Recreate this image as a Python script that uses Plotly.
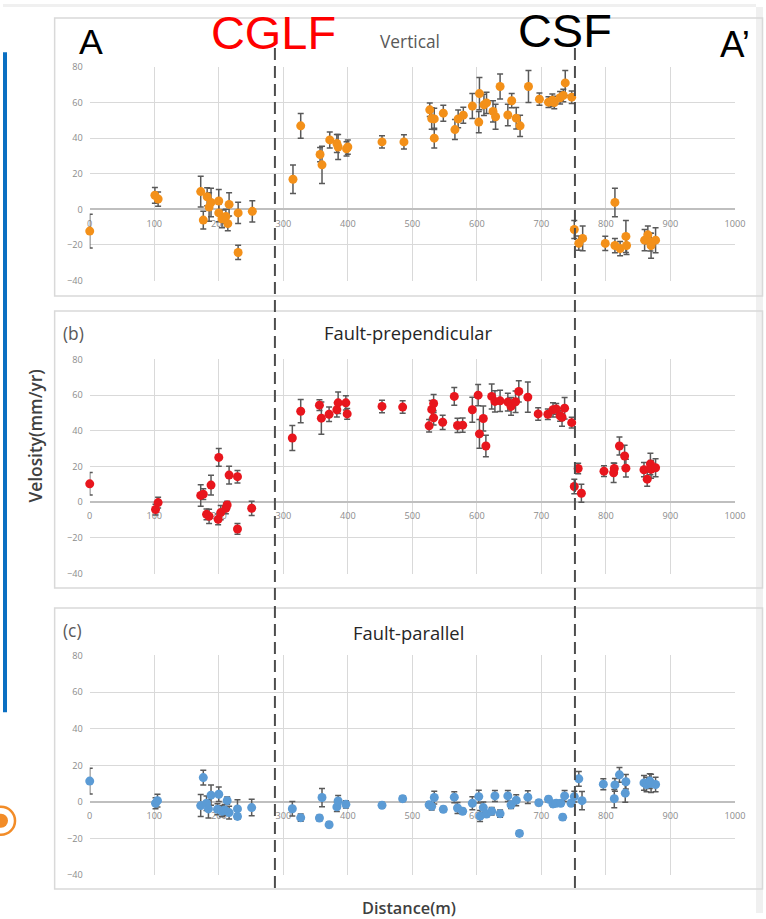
import plotly.graph_objects as go

# ---------------- data ----------------
vert_x = [0, 101, 106, 172, 176, 182, 185, 188, 200, 200, 205, 211, 214, 216, 230, 230, 252,
          315, 327, 357, 360, 372, 383, 385, 398, 400, 453, 487,
          527, 530, 534, 534, 548, 566, 571, 579, 593, 603, 604, 611, 615, 625, 629, 636, 648, 654,
          661, 667, 680, 697, 711, 717, 720, 729, 734, 737, 747,
          751, 758, 764, 799, 814, 814, 822, 831, 832, 860, 865, 869, 870, 877]
vert_y = [-12.2, 7.9, 5.8, 10, -6, 7.1, 1.3, 3.9, 4.7, -2, -5.3, -4, -8, 2.8, -2, -24.2, -1.1,
          16.9, 46.9, 30.8, 25, 39, 37, 35, 34, 35, 37.9, 37.9,
          55.9, 51, 50.8, 40, 54, 44.8, 50.8, 52.9, 58, 49, 65, 58.7, 59.8, 55, 52, 69, 53, 61,
          51.2, 46.9, 69, 61.9, 60.2, 61.3, 60, 62.7, 64, 71, 63,
          -11.3, -19, -16.3, -19.1, 3.9, -20.3, -22, -15.2, -20.3, -17.3, -14.3, -18.4, -20.4, -17.3]
vert_err = [9.5, 4.4, 4, 8.6, 5, 5, 8, 8, 6.5, 5, 5, 4, 4, 6.5, 6, 4, 6,
            8, 7, 4, 10.5, 4.5, 5, 7, 4, 4, 3.5, 4,
            3.8, 6, 6, 5.5, 4.5, 5.6, 5, 4.5, 7, 6, 9, 6, 6, 6, 7, 7, 6, 4,
            6, 6, 9, 3.5, 3, 3.5, 3.5, 3.5, 3.5, 7, 3.5,
            5, 4, 7, 4, 8, 4, 4, 9, 5, 6, 5, 5, 7, 7]

perp_x = [0, 102, 106, 172, 176, 181, 185, 188, 200, 199, 203, 211, 213, 216, 229, 229, 251,
          314, 327, 356, 359, 371, 383, 385, 397, 399, 453, 485,
          526, 530, 533, 533, 547, 565, 570, 578, 593, 602, 604, 610, 614, 623, 628, 636, 648, 653,
          660, 665, 679, 695, 710, 718, 723, 729, 732, 736, 747,
          751, 757, 762, 797, 813, 812, 821, 829, 831, 859, 864, 869, 870, 877]
perp_y = [10.3, -4.1, -0.2, 3.8, 4.5, -6.8, -7.9, 9.6, 25.1, -9.6, -5.8, -3.4, -1.5, 15.2, 14.3, -15, -3.4,
          36, 51, 54.4, 47.1, 49.3, 51.8, 55.7, 55.7, 49.5, 53.7, 53.3,
          42.8, 52, 55.3, 47.3, 44.8, 59.3, 43, 43.2, 51.8, 60, 38.3, 46.9, 31.5, 59.3, 56.5, 56.8, 56.1, 53.7,
          56.3, 62.1, 58.9, 49.5, 49.3, 51.8, 52.3, 48.4, 47.6, 52.7, 44.6,
          8.8, 18.9, 5, 17.4, 18.9, 16.5, 31.5, 25.9, 19.1, 18.2, 12.9, 21.4, 18.4, 19.3]
perp_err = [6.3, 3, 3, 6, 3, 3, 4, 5.5, 5, 3, 4, 3, 2, 5, 3.5, 3, 4,
            7, 6.5, 3, 9, 4, 4, 6, 4, 3, 3.5, 3.5,
            3.5, 5, 5, 4, 4, 5, 4, 4, 7, 6, 8, 7, 6, 7, 6, 6, 5, 5,
            6, 6, 8.5, 3.5, 3, 4, 3, 3, 5, 6, 3,
            4, 3, 5, 3, 3, 5.5, 5, 6, 5, 4, 4, 6, 5, 5]

para_x = [0, 102, 105, 172, 176, 181, 184, 188, 200, 198, 205, 209, 213, 216, 229, 229, 251,
          314, 327, 356, 360, 371, 383, 385, 397, 453, 485,
          526, 530, 534, 548, 565, 570, 578, 593, 603, 605, 610, 615, 623, 628, 636, 648, 653,
          661, 666, 679, 696, 711, 718, 723, 730, 733, 736, 746,
          751, 758, 763, 796, 813, 814, 821, 831, 830, 859, 863, 868, 870, 877]
para_y = [11.4, -0.7, 0.7, -2, 13.3, -0.7, -3.8, 3.7, 4.2, -4, -5.1, -4.4, 0.7, -5.8, -3.8, -7.9, -3.1,
          -3.7, -8.6, -8.8, 2.4, -12.4, -2.7, 0.5, -1.3, -1.8, 1.8,
          -1.6, -2.4, 2.4, -4, 2.6, -3.3, -5.1, -0.7, 2.9, -7.7, -3.1, -6.6, -5.1, 3.3, -6.4, 3.3, -1.6,
          0.9, -17.2, 2.6, -0.4, 1.5, -1.1, -0.7, -0.7, -8.3, 3.3, -0.7,
          2.9, 12.6, 0.7, 9.7, 1.8, 9.3, 14.8, 11, 4.8, 10.4, 9.5, 11.4, 10.1, 9.5]
para_err = [7, 3, 3.5, 6, 4, 4, 5, 5.5, 4, 3, 3, 3, 2, 3.5, 5, 1.5, 4.5,
            4, 2, 1.5, 5, 1.5, 2.5, 3, 2, 1.5, 1.5,
            1.5, 2, 3.5, 1.5, 3, 3, 1.5, 3.5, 3.5, 3, 3, 1.5, 2, 3, 2, 3, 2,
            3, 1.5, 3.5, 1.5, 1.5, 1.5, 1.5, 1.5, 1.5, 3, 1.5,
            3, 4, 5, 3, 5, 3.5, 4, 4, 5, 4, 4, 4, 5, 4]

x_ticks = [0, 100, 200, 300, 400, 500, 600, 700, 800, 900, 1000]
y_ticks = [-40, -20, 0, 20, 40, 60, 80]
fault_positions = [287, 752]

# ---------------- layout helpers ----------------
W, H = 766, 919
# compensation for the capture transform observed (image = offset + scale * page)
OX, OY = 3.0, 8.0
SX, SY = 751 / 766, 903 / 919
def PX(px):
    return ((px - OX) / SX) / W
def PY(py):
    return 1 - ((py - OY) / SY) / H
def FS(s):
    return s / SX

X0, X1 = 89.5, 733
panels = [
    (67.7, 280.7),
    (359.3, 572.7),
    (654.3, 873.3),
]
colors = ["#F39019", "#E8161D", "#5B9BD5"]
series = [(vert_x, vert_y, vert_err), (perp_x, perp_y, perp_err), (para_x, para_y, para_err)]

fig = go.Figure()
layout = dict(
    width=W, height=H,
    margin=dict(l=0, r=0, t=0, b=0),
    paper_bgcolor="white", plot_bgcolor="white",
    showlegend=False,
    font=dict(family="Open Sans, sans-serif", color="#808080"),
)

for i, ((top, bot), col, (xs, ys, es)) in enumerate(zip(panels, colors, series)):
    n = "" if i == 0 else str(i + 1)
    fig.add_trace(go.Scatter(
        x=xs, y=ys, mode="markers",
        marker=dict(color=col, size=FS(8.8), line=dict(width=0)),
        error_y=dict(type="data", array=es, visible=True, color="#595959",
                     thickness=1.5, width=3),
        xaxis="x" + n, yaxis="y" + n, cliponaxis=False,
    ))
    zero_py = top + (bot - top) * 80 / 120
    layout["xaxis" + n] = dict(
        domain=[PX(X0), PX(X1)], range=[0, 1000], tickvals=x_ticks,
        showgrid=True, gridcolor="#d9d9d9", gridwidth=1, zeroline=False,
        showline=False, ticks="", anchor="free", position=PY(zero_py),
        tickfont=dict(size=FS(9), color="#8c8c8c"), ticklabelstandoff=7,
        layer="below traces", fixedrange=True,
    )
    layout["yaxis" + n] = dict(
        domain=[PY(bot), PY(top)], range=[-40, 80], tickvals=y_ticks,
        showgrid=True, gridcolor="#d9d9d9", gridwidth=1,
        zeroline=True, zerolinecolor="#bfbfbf", zerolinewidth=1.5,
        showline=False, ticks="", anchor="x" + n,
        tickfont=dict(size=FS(9), color="#8c8c8c"), ticklabelstandoff=6,
        layer="below traces", fixedrange=True,
    )

fig.update_layout(**layout)

shapes = []
shapes.append(dict(type="rect", xref="paper", yref="paper", x0=0, x1=1, y0=PY(5), y1=1,
                   line=dict(width=0), fillcolor="#f0f0f0", layer="below"))
shapes.append(dict(type="rect", xref="paper", yref="paper", x0=PX(761), x1=1, y0=0, y1=1,
                   line=dict(width=0), fillcolor="#f0f0f0", layer="below"))
for (t, b) in [(19, 296), (311, 587), (607, 887)]:
    shapes.append(dict(type="rect", xref="paper", yref="paper", x0=PX(54.5), x1=PX(760.5),
                       y0=PY(b), y1=PY(t), line=dict(color="#d9d9d9", width=1.5),
                       fillcolor="rgba(0,0,0,0)", layer="below"))
shapes.append(dict(type="rect", xref="paper", yref="paper", x0=0, x1=PX(7), y0=PY(711), y1=PY(53),
                   line=dict(width=0), fillcolor="#0A6FC2"))
shapes.append(dict(type="circle", xref="paper", yref="paper", x0=PX(-13), x1=PX(15),
                   y0=PY(833), y1=PY(805), line=dict(color="#F28C28", width=2.5),
                   fillcolor="rgba(0,0,0,0)"))
shapes.append(dict(type="circle", xref="paper", yref="paper", x0=PX(-6), x1=PX(8),
                   y0=PY(826), y1=PY(812), line=dict(width=0), fillcolor="#F28C28"))
for fx in fault_positions:
    shapes.append(dict(type="line", xref="x", yref="paper", x0=fx, x1=fx,
                       y0=PY(886), y1=PY(48), line=dict(color="#4d4d4d", width=2, dash="12px,6px")))
fig.update_layout(shapes=shapes)

ann = []
def text(t, px, py, size, color, family="Open Sans, sans-serif", weight=None, angle=0):
    f = dict(size=FS(size), color=color, family=family)
    if weight:
        f["weight"] = weight
    ann.append(dict(text=t, x=PX(px), y=PY(py), xref="paper", yref="paper",
                    showarrow=False, xanchor="center", yanchor="middle",
                    font=f, textangle=angle))

text("A", 91, 43, 35, "black", family="Liberation Sans, Arial, sans-serif")
text("A’", 733, 45, 36, "black", family="Liberation Sans, Arial, sans-serif")
text("CGLF", 273, 34, 46, "#FF0000", family="Liberation Sans, Arial, sans-serif")
text("CSF", 564, 32, 46, "black", family="Liberation Sans, Arial, sans-serif")
text("Vertical", 409, 42, 17, "#595959")
text("(b)", 73, 333, 17, "#595959")
text("Fault-prependicular", 407, 332, 18, "#262626")
text("(c)", 72, 629, 17, "#595959")
text("Fault-parallel", 407, 631, 18, "#262626")
text("Velosity(mm/yr)", 35, 436, 17, "#404040", weight=600, angle=-90)
text("Distance(m)", 408, 906, 16, "#404040", weight=600)
fig.update_layout(annotations=ann)

post = (
    "document.documentElement.style.margin='0';"
    "document.documentElement.style.overflow='hidden';"
    "document.body.style.margin='0';"
    "document.body.style.overflow='hidden';"
    "var d=document.getElementById('{plot_id}');"
    "d.style.position='fixed';d.style.left='0px';d.style.top='0px';"
)
fig.write_html("out.html", config={"displayModeBar": False}, post_script=post)
